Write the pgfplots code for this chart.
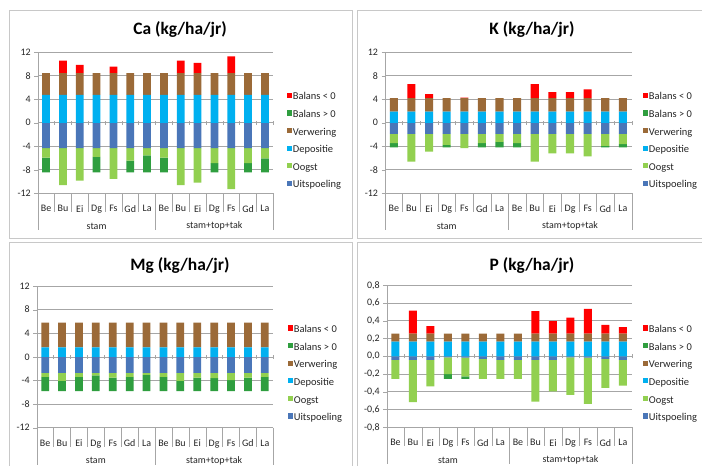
\documentclass[border=0pt]{standalone}
\usepackage{pgfplots}
\pgfplotsset{compat=1.18}
\usepackage{pgfplotstable}
\usepackage{fontspec}
\setmainfont{Carlito}

\definecolor{cBneg}{HTML}{FF0000}
\definecolor{cBpos}{HTML}{2F9E3F}
\definecolor{cVer}{HTML}{9B6A38}
\definecolor{cDep}{HTML}{00B0F0}
\definecolor{cOog}{HTML}{92D050}
\definecolor{cUit}{HTML}{4A76B8}
\definecolor{cGrid}{HTML}{A6A6A6}
\definecolor{cFrame}{HTML}{C8C8C8}

% columns: x, Uitspoeling, Oogst, Balans>0 (negative side), Depositie, Verwering, Balans<0 (positive side)
\pgfplotstableread{
x  Uit   Oog    Bpos   Dep   Ver  Bneg
1  -4.3  -1.65  -2.5   4.75  3.7  0
2  -4.3  -6.3    0     4.75  3.7  2.15
3  -4.3  -5.55   0     4.75  3.7  1.4
4  -4.3  -1.5   -2.65  4.75  3.7  0
5  -4.3  -5.25   0     4.75  3.7  1.1
6  -4.3  -2.15  -2.0   4.75  3.7  0
7  -4.3  -1.25  -2.9   4.75  3.7  0
8  -4.3  -1.65  -2.5   4.75  3.7  0
9  -4.3  -6.3    0     4.75  3.7  2.15
10 -4.3  -5.9    0     4.75  3.7  1.75
11 -4.3  -2.55  -1.6   4.75  3.7  0
12 -4.3  -7.0    0     4.75  3.7  2.85
13 -4.3  -2.55  -1.6   4.75  3.7  0
14 -4.3  -1.75  -2.4   4.75  3.7  0
}\dataCa

\pgfplotstableread{
x  Uit   Oog    Bpos   Dep  Ver  Bneg
1  -1.9  -1.55  -0.75  1.9  2.3  0
2  -1.9  -4.7    0     1.9  2.3  2.4
3  -1.9  -3.0    0     1.9  2.3  0.7
4  -1.9  -1.85  -0.45  1.9  2.3  0
5  -1.9  -2.4    0     1.9  2.3  0.1
6  -1.9  -1.55  -0.75  1.9  2.3  0
7  -1.9  -1.35  -0.95  1.9  2.3  0
8  -1.9  -1.55  -0.75  1.9  2.3  0
9  -1.9  -4.7    0     1.9  2.3  2.4
10 -1.9  -3.3    0     1.9  2.3  1.0
11 -1.9  -3.3    0     1.9  2.3  1.0
12 -1.9  -3.8    0     1.9  2.3  1.5
13 -1.9  -2.05  -0.25  1.9  2.3  0
14 -1.9  -1.75  -0.55  1.9  2.3  0
}\dataK

\pgfplotstableread{
x  Uit   Oog    Bpos   Dep  Ver  Bneg
1  -2.7  -0.7   -2.4   1.6  4.2  0
2  -2.7  -1.35  -1.75  1.6  4.2  0
3  -2.7  -0.7   -2.4   1.6  4.2  0
4  -2.7  -0.45  -2.65  1.6  4.2  0
5  -2.7  -0.8   -2.3   1.6  4.2  0
6  -2.7  -0.7   -2.4   1.6  4.2  0
7  -2.7  -0.35  -2.75  1.6  4.2  0
8  -2.7  -0.7   -2.4   1.6  4.2  0
9  -2.7  -1.35  -1.75  1.6  4.2  0
10 -2.7  -0.8   -2.3   1.6  4.2  0
11 -2.7  -0.9   -2.2   1.6  4.2  0
12 -2.7  -1.25  -1.85  1.6  4.2  0
13 -2.7  -0.8   -2.3   1.6  4.2  0
14 -2.7  -0.7   -2.4   1.6  4.2  0
}\dataMg

\pgfplotstableread{
x  Uit     Oog     Bpos    Dep    Ver   Bneg
1  -0.04   -0.215   0      0.165  0.09  0
2  -0.04   -0.475   0      0.165  0.09  0.26
3  -0.04   -0.30    0      0.165  0.09  0.085
4  -0.012  -0.188  -0.055  0.165  0.09  0
5  -0.015  -0.21   -0.03   0.165  0.09  0
6  -0.028  -0.227   0      0.165  0.09  0
7  -0.04   -0.215   0      0.165  0.09  0
8  -0.04   -0.215   0      0.165  0.09  0
9  -0.04   -0.47    0      0.165  0.09  0.255
10 -0.04   -0.355   0      0.165  0.09  0.14
11 -0.012  -0.423   0      0.165  0.09  0.18
12 -0.015  -0.52    0      0.165  0.09  0.28
13 -0.028  -0.327   0      0.165  0.09  0.10
14 -0.04   -0.29    0      0.165  0.09  0.075
}\dataP

\pgfplotsset{
  sqleg/.style={legend image code/.code={\fill[##1] (0bp,-0.5bp) rectangle (5.2bp,4.7bp);}},
  common/.style={
    scale only axis, anchor=south west,
    xmin=0.5, xmax=14.5,
    ybar stacked, bar width=0.46,
    every axis plot/.append style={draw=none},
  },
  main/.style={
    common,
    axis y line*=left, axis x line*=bottom,
    x axis line style={draw=none},
    y axis line style={draw=cGrid},
    ymajorgrids, grid style={cGrid, line width=0.6pt},
    xtick={1,...,14},
    xticklabels={Be,Bu,Ei,Dg,Fs,Gd,La,Be,Bu,Ei,Dg,Fs,Gd,La},
    major x tick style={draw=none},
    ytick style={draw=cGrid},
    tick align=outside, major tick length=3.5bp,
    ticklabel style={font=\fontsize{10}{12}\selectfont, text=black!85},
    /pgf/number format/assume math mode=true,
    xticklabel style={yshift=-5bp},
    clip=false,
  },
  over/.style={
    common, hide axis,
    legend cell align=left,
    legend style={draw=none, fill=none, anchor=west, inner sep=0pt,
      font=\fontsize{10.5}{12}\selectfont, text=black!85, row sep=7.6bp,
      nodes={inner sep=0.5bp, text height=7bp, text depth=2bp},
      /tikz/every even column/.append style={column sep=2.5bp}},
  },
}

\newcommand{\decor}[1]{%
  \pgfplotsinvokeforeach{1.5,2.5,3.5,4.5,5.5,6.5,8.5,9.5,10.5,11.5,12.5,13.5}{%
    \draw[cGrid] (axis cs:##1,#1) -- ++(0bp,-19bp);}
  \pgfplotsinvokeforeach{0.5,7.5,14.5}{%
    \draw[cGrid] (axis cs:##1,#1) -- ++(0bp,-37bp);}
  \pgfplotsinvokeforeach{0.5,1.5,2.5,3.5,4.5,5.5,6.5,7.5,8.5,9.5,10.5,11.5,12.5,13.5,14.5}{%
    \draw[cGrid] (axis cs:##1,0) ++(0bp,-2bp) -- ++(0bp,4bp);}
  \node[font=\fontsize{10}{12}\selectfont, text=black!85] at ([yshift=-33bp]axis cs:4,#1) {stam};
  \node[font=\fontsize{10}{12}\selectfont, text=black!85] at ([yshift=-33bp]axis cs:11,#1) {stam+top+tak};
}

\newcommand{\negplots}[1]{%
  \addplot[fill=cUit, forget plot] table[x=x,y=Uit]{#1};
  \addplot[fill=cOog, forget plot] table[x=x,y=Oog]{#1};
  \addplot[fill=cBpos, forget plot] table[x=x,y=Bpos]{#1};
}
\newcommand{\posplots}[1]{%
  \addplot[fill=cDep, forget plot] table[x=x,y=Dep]{#1};
  \addplot[fill=cVer, forget plot] table[x=x,y=Ver]{#1};
  \addplot[fill=cBneg, forget plot] table[x=x,y=Bneg]{#1};
  \addlegendimage{sqleg, fill=cBneg}\addlegendentry{Balans < 0}
  \addlegendimage{sqleg, fill=cBpos}\addlegendentry{Balans > 0}
  \addlegendimage{sqleg, fill=cVer}\addlegendentry{Verwering}
  \addlegendimage{sqleg, fill=cDep}\addlegendentry{Depositie}
  \addlegendimage{sqleg, fill=cOog}\addlegendentry{Oogst}
  \addlegendimage{sqleg, fill=cUit}\addlegendentry{Uitspoeling}
}

\begin{document}
\begin{tikzpicture}[x=1bp,y=1bp]
\path[use as bounding box] (0,0) rectangle (702,466);
\fill[white] (0,0) rectangle (702,466);
% panel frames
\draw[cFrame, line width=0.8bp] (9,228) rectangle (352,456);
\draw[cFrame, line width=0.8bp] (357,228) rectangle (712,456);
\draw[cFrame, line width=0.8bp] (9,-10) rectangle (352,224);
\draw[cFrame, line width=0.8bp] (357,-10) rectangle (712,224);

% titles
\node[anchor=base, font=\bfseries\fontsize{17.5}{20}\selectfont] at (180,431) {Ca (kg/ha/jr)};
\node[anchor=base, font=\bfseries\fontsize{17.5}{20}\selectfont] at (532,431) {K (kg/ha/jr)};
\node[anchor=base, font=\bfseries\fontsize{17.5}{20}\selectfont] at (180,195) {Mg (kg/ha/jr)};
\node[anchor=base, font=\bfseries\fontsize{17.5}{20}\selectfont] at (532,195) {P (kg/ha/jr)};

% ---- Ca ----
\begin{axis}[main, at={(37.7bp,272.7bp)}, width=235.6bp, height=141bp,
  ymin=-12, ymax=12, ytick={-12,-8,-4,0,4,8,12}]
\negplots{\dataCa}
\decor{-12}
\end{axis}
\begin{axis}[over, at={(37.7bp,272.7bp)}, width=235.6bp, height=141bp,
  ymin=-12, ymax=12, legend style={at={(1.058,0.368)}}]
\posplots{\dataCa}
\end{axis}

% ---- K ----
\begin{axis}[main, at={(385bp,272.7bp)}, width=246.7bp, height=141bp,
  ymin=-12, ymax=12, ytick={-12,-8,-4,0,4,8,12}]
\negplots{\dataK}
\decor{-12}
\end{axis}
\begin{axis}[over, at={(385bp,272.7bp)}, width=246.7bp, height=141bp,
  ymin=-12, ymax=12, legend style={at={(1.046,0.368)}}]
\posplots{\dataK}
\end{axis}

% ---- Mg ----
\begin{axis}[main, at={(36.7bp,38.3bp)}, width=236.6bp, height=141.7bp,
  ymin=-12, ymax=12, ytick={-12,-8,-4,0,4,8,12}]
\negplots{\dataMg}
\decor{-12}
\end{axis}
\begin{axis}[over, at={(36.7bp,38.3bp)}, width=236.6bp, height=141.7bp,
  ymin=-12, ymax=12, legend style={at={(1.062,0.378)}}]
\posplots{\dataMg}
\end{axis}

% ---- P ----
\begin{axis}[main, at={(386.7bp,38.7bp)}, width=245bp, height=142bp,
  ymin=-0.8, ymax=0.8, ytick={-0.8,-0.6,-0.4,-0.2,0,0.2,0.4,0.6,0.8},
  yticklabel style={/pgf/number format/.cd, fixed, fixed zerofill, precision=1, use comma}]
\negplots{\dataP}
\decor{-0.8}
\end{axis}
\begin{axis}[over, at={(386.7bp,38.7bp)}, width=245bp, height=142bp,
  ymin=-0.8, ymax=0.8, legend style={at={(1.046,0.374)}}]
\posplots{\dataP}
\end{axis}
\end{tikzpicture}
\end{document}
